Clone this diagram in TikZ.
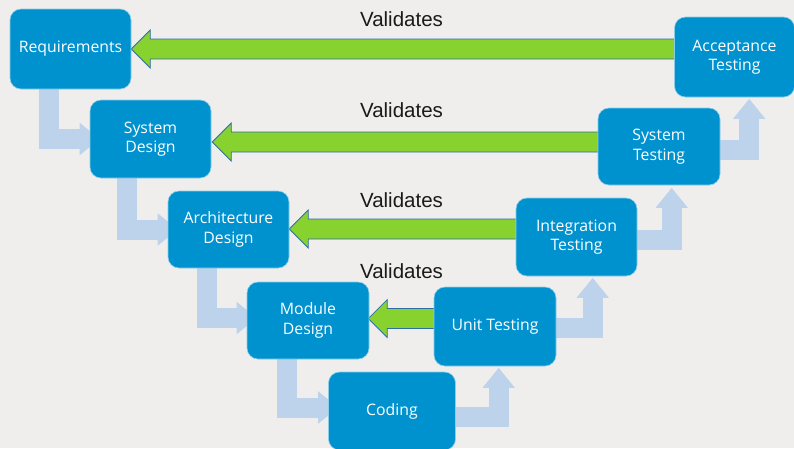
\documentclass[tikz,border=0pt]{standalone}
\usepackage{fontspec}
\setmainfont{Liberation Sans}
\newfontfamily\boxfont{Open Sans}
\usetikzlibrary{calc,arrows.meta}
\definecolor{bgc}{HTML}{EFEEED}
\definecolor{boxblue}{HTML}{0092CF}
\definecolor{lightarr}{HTML}{BDD2EB}
\definecolor{greenfill}{HTML}{88D22F}
\definecolor{greenline}{HTML}{2F6EA5}
\definecolor{labelc}{HTML}{1A1A1A}
\pgfdeclarelayer{bglayer}
\pgfdeclarelayer{arrowlayer}
\pgfsetlayers{bglayer,arrowlayer,main}
\newcommand\garrowpath[2]{\draw[garrow] (#1) -- ++(19,-19) -- ++(0,9) -- ($(#2.west|-#1)+(8,-10)$) -- ++(0,20) -- ($(#1)+(19,10)$) -- ++(0,9) -- cycle;}
\tikzset{
  stagebox/.style={rounded corners=11pt, fill=boxblue, draw=boxblue!45!white, line width=0.6pt,
    text=white, align=center, inner sep=0pt, font=\boxfont\fontsize{15.8}{19.5}\selectfont},
  larrow/.style={draw=lightarr, line width=20pt, line join=miter, line cap=butt,
    -{Triangle[width=31pt,length=20pt]}},
  garrow/.style={fill=greenfill, draw=greenline, line width=0.8pt, line join=miter},
  vlabel/.style={text=labelc, font=\fontsize{20.5}{24}\selectfont, inner sep=0pt}
}
\begin{document}
\begin{tikzpicture}[x=1pt,y=-1pt]
\begin{pgfonlayer}{bglayer}
\fill[bgc] (0,0) rectangle (794,448);
\end{pgfonlayer}
\useasboundingbox (0,0) rectangle (794,448);
% boxes
\path
  (70.5,49)   node[stagebox, minimum width=121pt, minimum height=80pt] (req) {Requirements}
  (150.5,139) node[stagebox, minimum width=121pt, minimum height=78pt] (sysd) {System\\Design}
  (228.5,229.5) node[stagebox, minimum width=121pt, minimum height=77pt] (arch) {Architecture\\Design}
  (308,320.5) node[stagebox, minimum width=122pt, minimum height=77pt] (mod) {Module\\Design}
  (392,411)   node[stagebox, minimum width=127pt, minimum height=78pt] (coding) {Coding}
  (495,326.5) node[stagebox, minimum width=122pt, minimum height=79pt] (unit) {Unit Testing}
  (576.5,237) node[stagebox, minimum width=121pt, minimum height=78pt] (integ) {Integration\\Testing}
  (659,146.5) node[stagebox, minimum width=122pt, minimum height=77pt] (syst) {System\\Testing}
  (734.5,57)  node[stagebox, minimum width=120pt, minimum height=80pt] (acc) {Acceptance\\Testing};
\begin{pgfonlayer}{arrowlayer}
% light blue flow arrows (behind boxes)
\draw[larrow] ($(req.south west)+(39.5,0)$) |- ($(sysd.west)+(10,0)$);
\draw[larrow] ($(sysd.south west)+(37.5,0)$) |- ($(arch.west)+(10,0)$);
\draw[larrow] ($(arch.south west)+(39,0)$) |- ($(mod.west)+(10,-2.5)$);
\draw[larrow] ($(mod.south west)+(40.5,0)$) |- ($(coding.west)+(10,-3.5)$);
\draw[larrow] ($(coding.east)+(-10,6)$) -| ($(unit.south west)+(65,1.5)$);
\draw[larrow] ($(unit.east)+(-10,1)$) -| ($(integ.south west)+(77,1.5)$);
\draw[larrow] ($(integ.east)+(-10,3)$) -| ($(syst.south west)+(74,2.5)$);
\draw[larrow] ($(syst.east)+(-10,3.5)$) -| ($(acc.south west)+(75,1.5)$);
% green validation arrows
\coordinate (g1) at (req.east);
\coordinate (g2) at ($(sysd.east)+(1,3)$);
\coordinate (g3) at ($(arch.east)+(0,-0.5)$);
\coordinate (g4) at ($(mod.east)+(-1,-2)$);
\garrowpath{g1}{acc}
\garrowpath{g2}{syst}
\garrowpath{g3}{integ}
\garrowpath{g4}{unit}
\end{pgfonlayer}
% labels
\node[vlabel] (v1) at (401.5,19.5) {Validates};
\node[vlabel] (v2) at (401.5,110.5) {Validates};
\node[vlabel] (v3) at (401.5,200.5) {Validates};
\node[vlabel] (v4) at (401.5,271) {Validates};
\end{tikzpicture}
\end{document}
